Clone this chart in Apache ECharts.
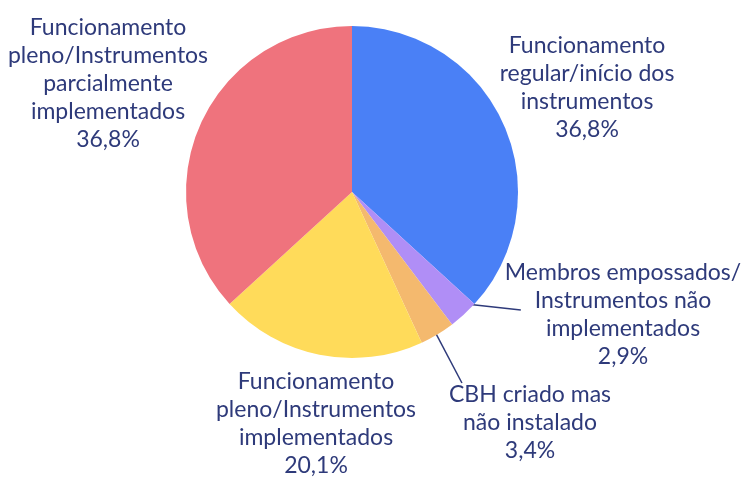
<!DOCTYPE html>
<html lang="pt">
<head>
    <meta charset="UTF-8">
    <title>CBH</title>
    <script src="https://cdn.jsdelivr.net/npm/echarts@6/dist/echarts.min.js"></script>
    <style>
        html, body { margin: 0; padding: 0; background: #fff; }
        #main { width: 744px; height: 480px; }
    </style>
</head>
<body>
    <div id="main"></div>
    <script>
        // categorias e valores (%)
        var categorias = [
            'Funcionamento\nregular/início dos\ninstrumentos',
            'Membros empossados/\nInstrumentos não\nimplementados',
            'CBH criado mas\nnão instalado',
            'Funcionamento\npleno/Instrumentos\nimplementados',
            'Funcionamento\npleno/Instrumentos\nparcialmente\nimplementados'
        ];
        var valores = [36.8, 2.9, 3.4, 20.1, 36.8];
        var cores = ['#4a80f6', '#b08ef6', '#f4b96e', '#ffdb5a', '#ef737d'];
        var comLinha = [false, true, true, false, false];

        // centro de cada rótulo
        var posRotulo = [[587, 88], [623, 315], [530, 423], [316, 424], [108, 84]];
        var centro = [352, 192];
        var raio = 166;

        var total = valores.reduce(function (s, v) { return s + v; }, 0);

        // ponto dentro da fatia, no ângulo médio (início no topo, sentido horário)
        function pontoMedio(i, r) {
            var acum = 0;
            for (var k = 0; k < i; k++) acum += valores[k];
            var t = (acum + valores[i] / 2) / total * Math.PI * 2;
            return [centro[0] + r * Math.sin(t), centro[1] - r * Math.cos(t)];
        }

        var myChart = echarts.init(document.getElementById('main'));

        var dados = categorias.map(function (c, i) {
            return {
                name: c,
                value: valores[i],
                itemStyle: { color: cores[i] },
                labelLine: { show: comLinha[i] }
            };
        });

        var option = {
            animation: false,
            series: [{
                type: 'pie',
                center: centro,
                radius: raio,
                startAngle: 90,
                clockwise: true,
                data: dados,
                itemStyle: { borderWidth: 0 },
                label: {
                    show: true,
                    position: 'outside',
                    color: '#2e3a7a',
                    fontFamily: 'Lato',
                    fontSize: 23,
                    lineHeight: 28,
                    align: 'center',
                    overflow: 'none',
                    formatter: function (p) {
                        return p.name + '\n' + p.value.toFixed(1).replace('.', ',') + '%';
                    }
                },
                labelLine: {
                    lineStyle: { color: '#2e3a7a', width: 1.5 },
                    length: 20,
                    length2: 20
                },
                labelLayout: function (params) {
                    var i = params.dataIndex;
                    var p = posRotulo[i];
                    var out = {
                        x: p[0],
                        y: p[1],
                        align: 'center',
                        verticalAlign: 'middle'
                    };
                    if (comLinha[i]) {
                        var ini = pontoMedio(i, raio * 0.9);
                        var w = params.labelRect.width, h = params.labelRect.height;
                        var esq = p[0] - w / 2, topo = p[1] - h / 2;
                        var fim = i === 1 ? [esq + 16, p[1] - 5] : [esq + 13, topo + 2];
                        out.labelLinePoints = [ini, fim];
                    }
                    return out;
                }
            }]
        };
        myChart.setOption(option);
    </script>
</body>
</html>
